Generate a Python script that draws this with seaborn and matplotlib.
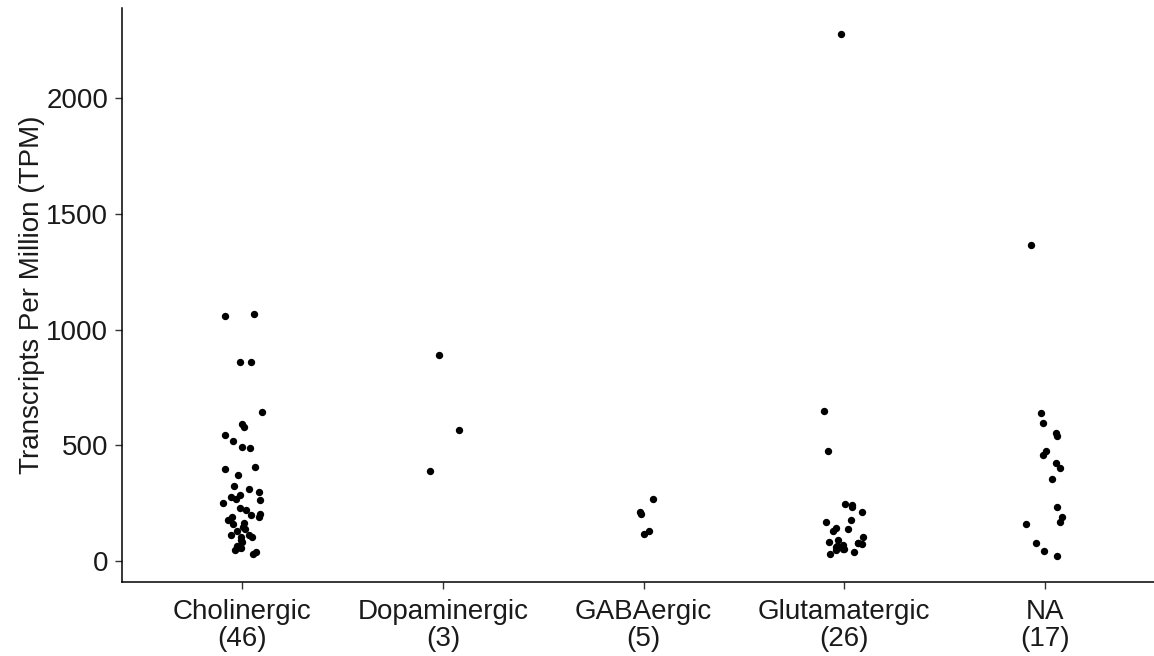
import numpy as np
import pandas as pd
import matplotlib
matplotlib.use("Agg")
import matplotlib.pyplot as plt
import seaborn as sns

categories = ["Cholinergic", "Dopaminergic", "GABAergic", "Glutamatergic", "NA"]

cholinergic = [1058, 1066, 860, 860, 646, 579, 592, 547, 518, 492, 489, 406, 372, 397,
               325, 300, 279, 286, 264, 250, 221, 206, 189, 163, 192, 177, 148, 103,
               113, 103, 113, 84, 65, 59, 58, 40, 30, 50, 140, 160, 230, 270, 310,
               130, 90, 200]
dopaminergic = [889, 567, 390]
gabaergic = [267, 213, 202, 130, 118]
glutamatergic = [2277, 649, 476, 234, 247, 245, 213, 177, 170, 144, 139, 130, 105, 74,
                 79, 72, 79, 85, 62, 55, 40, 55, 33, 90, 65, 48]
na_group = [1364, 642, 596, 556, 541, 477, 459, 426, 404, 354, 235, 189, 160, 170, 79,
            43, 23]

series = [cholinergic, dopaminergic, gabaergic, glutamatergic, na_group]
tick_labels = [f"{c}\n({len(v)})" for c, v in zip(categories, series)]

df = pd.DataFrame({
    "group": np.repeat(categories, [len(v) for v in series]),
    "tpm": np.concatenate(series),
})

sns.set_theme(style="ticks")
plt.rcParams["font.family"] = ["Liberation Sans", "DejaVu Sans"]

fig = plt.figure(figsize=(11.54, 6.56), dpi=100)
ax = fig.add_axes([122 / 1154, 74 / 656, (1165 - 122) / 1154, 574 / 656])

np.random.seed(7)
sns.stripplot(data=df, x="group", y="tpm", order=categories, color="black",
              size=5.3, jitter=0.1, linewidth=0, ax=ax)

vmin, vmax = df["tpm"].min(), df["tpm"].max()
rng = vmax - vmin
ax.set_ylim(vmin - 0.05 * rng, vmax + 0.05 * rng)
ax.set_xlim(-0.6, len(categories) - 0.4)
ax.set_yticks([0, 500, 1000, 1500, 2000])
ax.set_xticks(range(len(categories)))
ax.set_xticklabels(tick_labels, linespacing=1.08)

ax.set_xlabel("")
ax.set_ylabel("Transcripts Per Million (TPM)", fontsize=20, color="#1a1a1a", labelpad=1)
ax.tick_params(axis="both", labelsize=20, labelcolor="#1a1a1a", length=5,
               width=1.0, color="#333333")
ax.tick_params(axis="x", pad=7)
ax.tick_params(axis="y", pad=5)
for s in ["top", "right"]:
    ax.spines[s].set_visible(False)
for s in ["left", "bottom"]:
    ax.spines[s].set_color("black")
    ax.spines[s].set_linewidth(1.1)

fig.savefig("out.png", dpi=100)
